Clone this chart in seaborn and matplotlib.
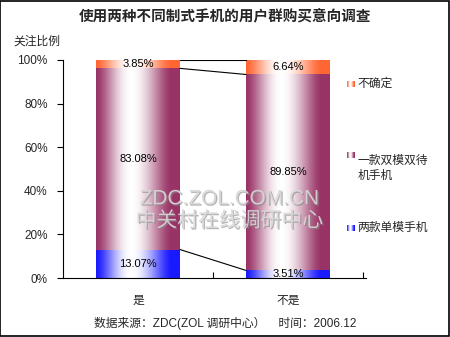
import numpy as np
import pandas as pd
import matplotlib
matplotlib.use("Agg")
import matplotlib.pyplot as plt
import matplotlib.patheffects as pe
from matplotlib.patches import Rectangle
import seaborn as sns

# ---- data ----
categories = ["是", "不是"]
series_names = ["两款单模手机", "一款双模双待机手机", "不确定"]
legend_labels = ["不确定", "一款双模双待\n机手机", "两款单模手机"]
single_mode = [13.07, 3.51]
dual_mode = [83.08, 89.85]
unsure = [3.85, 6.64]
y_ticks = [0, 20, 40, 60, 80, 100]
y_tick_labels = ["0%", "20%", "40%", "60%", "80%", "100%"]
title = "使用两种不同制式手机的用户群购买意向调查"
y_title = "关注比例"
footer = "数据来源：ZDC(ZOL 调研中心）    时间：2006.12"
watermark1 = "ZDC.ZOL.COM.CN"
watermark2 = "中关村在线调研中心"

colors = ["#1a1aff", "#993366", "#ff6633"]

sns.set_theme(style="white")
plt.rcParams['font.family'] = ['Liberation Sans', 'Noto Sans CJK SC', 'DejaVu Sans']

fig = plt.figure(figsize=(4.5, 3.37), dpi=100)
ax = fig.add_axes([0.14, 0.175, 0.673, 0.647])

segs = [single_mode, dual_mode, unsure]
cum = np.cumsum(np.array(segs), axis=0)  # rows: cumulative top of each segment

df = pd.DataFrame({"cat": categories})
# draw from top-most cumulative to lowest
for i in [2, 1, 0]:
    d = df.copy()
    d["v"] = cum[i]
    sns.barplot(data=d, x="cat", y="v", color=colors[i], width=0.56,
                errorbar=None, ax=ax, saturation=1)

def grad(color, n=256):
    c = np.array(matplotlib.colors.to_rgb(color))
    t = np.linspace(0, 1, n)
    peak = 0.42
    w = np.where(t < peak, t / peak, 1 - (t - peak) / 0.48)
    w = np.clip(w, 0, 1)
    w = np.sin(w * np.pi / 2) ** 1.5
    img = c[None, :] * (1 - w[:, None]) + w[:, None]
    return img[None, :, :]

patches = list(ax.patches)
order = [2, 1, 0]
geo = {}
for k, p in enumerate(patches):
    i = order[k // 2]
    j = k % 2
    x0, w, h = p.get_x(), p.get_width(), p.get_height()
    bottom = 0 if i == 0 else cum[i - 1][j]
    p.set_visible(False)
    ax.imshow(grad(colors[i]), extent=[x0, x0 + w, bottom, h], aspect='auto',
              zorder=2 + i, interpolation='bilinear')
    geo[(i, j)] = (x0, w, bottom, h)
    ax.text(x0 + w / 2, (bottom + h) / 2, f"{segs[i][j]:.2f}%", ha='center',
            va='center', fontsize=8, zorder=10, color='black')

# connector lines
for i in range(3):
    x0a, wa, _, ha_ = geo[(i, 0)]
    x0b, wb, _, hb = geo[(i, 1)]
    ax.plot([x0a + wa, x0b], [ha_, hb], color='black', lw=0.8, zorder=5)

ax.set_xlim(-0.5, 1.52)
ax.set_ylim(0, 100)
ax.set_yticks(y_ticks)
ax.set_yticklabels(y_tick_labels, fontsize=8.5)
ax.set_xticks([0, 1])
ax.set_xticklabels(categories, fontsize=8.5)
ax.set_xticks([0.5, 1.5], minor=True)
ax.tick_params(axis='x', which='major', length=0, pad=12)
ax.tick_params(axis='x', which='minor', direction='in', length=4, color='black', width=0.8, bottom=True)
ax.tick_params(axis='y', direction='out', length=4, color='black', width=0.8, left=True, pad=7)
ax.set_xlabel("")
ax.set_ylabel("")
for s in ['top', 'right']:
    ax.spines[s].set_visible(False)
for s in ['left', 'bottom']:
    ax.spines[s].set_color('black')
    ax.spines[s].set_linewidth(0.8)
ax.set_facecolor('white')

# watermark
eff = [pe.withSimplePatchShadow(offset=(1, -1), shadow_rgbFace='#888888', alpha=0.6)]
fig.text(0.51, 0.41, watermark1, fontsize=15, color='#d8d8d8', ha='center', va='center',
         zorder=20, path_effects=eff, alpha=0.9)
fig.text(0.51, 0.345, watermark2, fontsize=15, color='#d8d8d8', ha='center', va='center',
         zorder=20, path_effects=eff, alpha=0.9)

# titles
fig.text(0.5, 0.948, title, fontsize=10.5, fontweight='bold', ha='center', va='center')
fig.text(0.031, 0.875, y_title, fontsize=8.5, ha='left', va='center')
fig.text(0.5, 0.04, footer, fontsize=8.5, ha='center', va='center')

# legend
leg_y = [0.75, 0.54, 0.323]
leg_cols = [colors[2], colors[1], colors[0]]
for yy, lab, col in zip(leg_y, legend_labels, leg_cols):
    lax = fig.add_axes([0.771, yy - 0.009, 0.016, 0.018])
    lax.imshow(grad(col), aspect='auto', extent=[0, 1, 0, 1])
    lax.axis('off')
    fig.text(0.795, yy, lab, fontsize=8.5, ha='left', va='top' if '\n' in lab else 'center',
             linespacing=1.3, transform=fig.transFigure)

# border
fig.patches.append(Rectangle((0.001, 0.0015), 0.997, 0.996, transform=fig.transFigure,
                             fill=False, edgecolor='black', lw=1.2))

fig.savefig("out.png", dpi=100)
